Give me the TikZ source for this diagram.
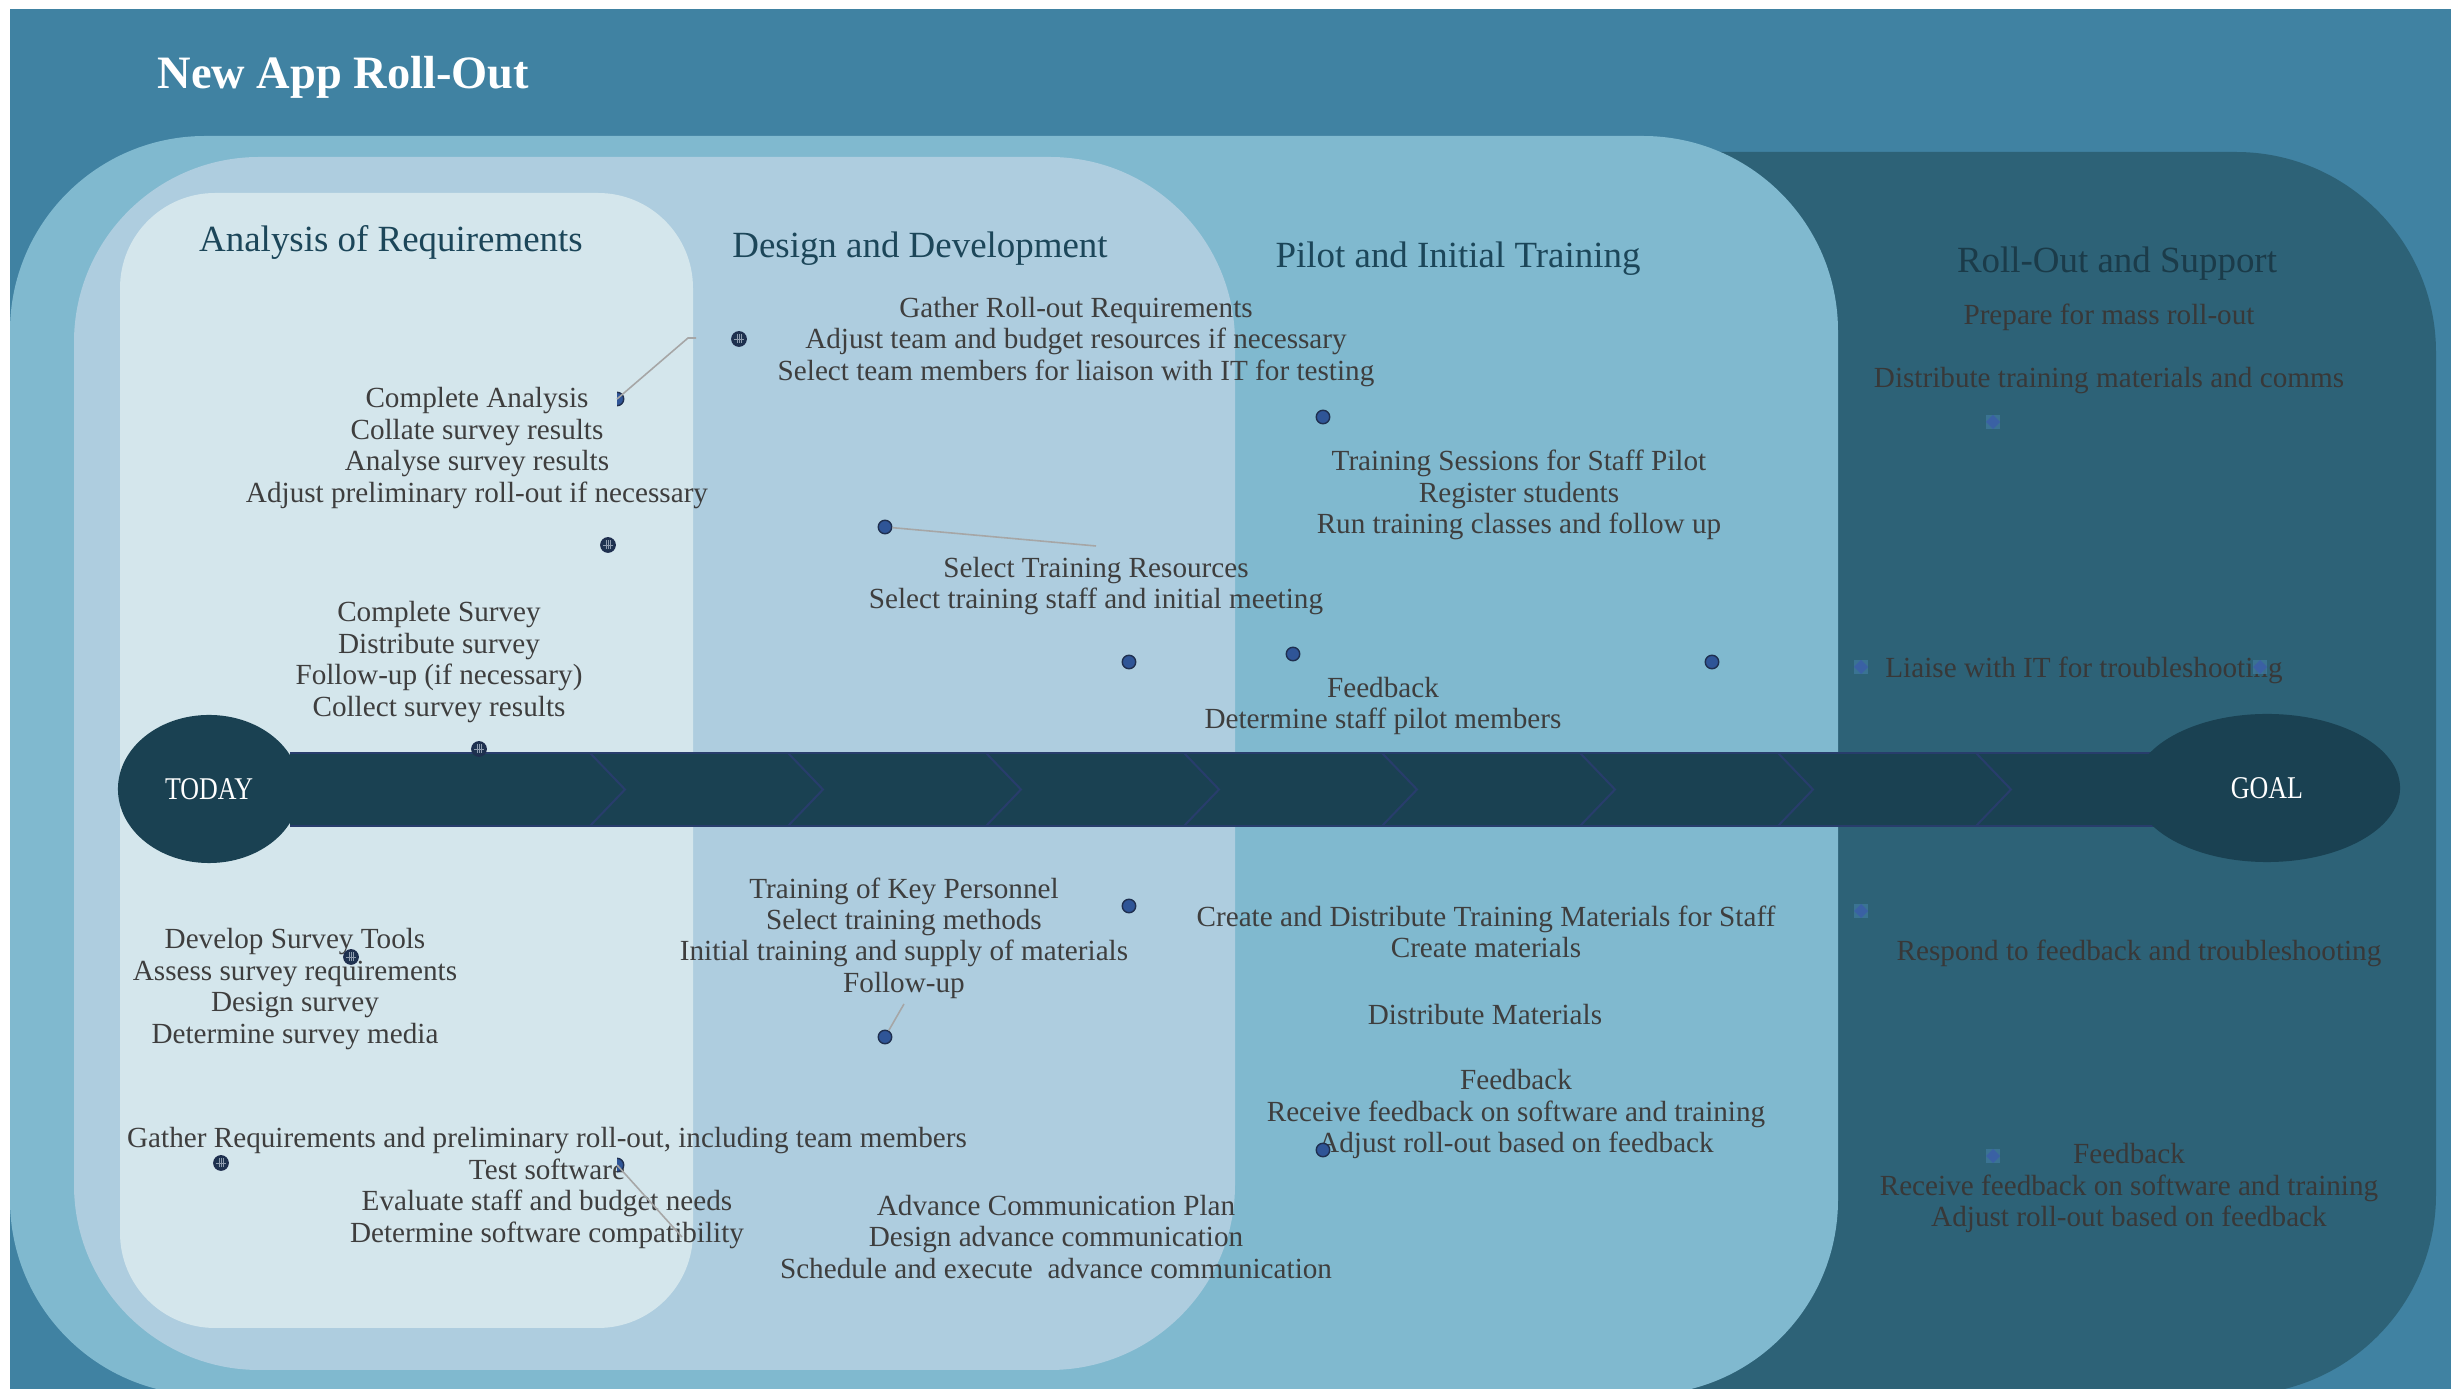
\documentclass[tikz,border=0pt]{standalone}
\usepackage{fontspec}
\setmainfont{Liberation Serif}
\newfontfamily\narrowserif[FakeStretch=0.82]{Liberation Serif}
\usetikzlibrary{shapes.geometric}

\definecolor{bgblue}{HTML}{4082A2}
\definecolor{ringblue}{HTML}{80B9CF}
\definecolor{designblue}{HTML}{AECDDF}
\definecolor{paleblue}{HTML}{D4E6EC}
\definecolor{rolloutblue}{HTML}{2D6277}
\definecolor{barblue}{HTML}{1A4152}
\definecolor{chevronline}{HTML}{283D6C}
\definecolor{bodytext}{HTML}{3E3E3E}
\definecolor{dimtext}{HTML}{383838}
\definecolor{headtext}{HTML}{1C4659}
\definecolor{headdim}{HTML}{1B3B49}
\definecolor{dotfill}{HTML}{2F5597}
\definecolor{dotedge}{HTML}{1F2F4F}
\definecolor{griddark}{HTML}{1E3350}
\definecolor{gridline}{HTML}{8E9BAE}
\definecolor{markerbox}{HTML}{3D7799}
\definecolor{markerdiamond}{HTML}{3B5EA8}
\definecolor{leader}{HTML}{A6A6A6}

\tikzset{
  body/.style={text=bodytext, font=\fontsize{8.3}{8.93}\selectfont, align=center, inner sep=0pt},
  dimbody/.style={body, text=dimtext},
  head/.style={text=headtext, font=\fontsize{10.5}{12}\selectfont, inner sep=0pt, anchor=base},
  milestone/.style={ellipse, fill=barblue, inner sep=0pt, minimum height=1.48cm,
    text=white, font=\narrowserif\fontsize{9}{10}\selectfont},
  chevron/.style={chevronline, line width=0.57pt},
  leaderline/.style={leader, line width=0.45pt},
  bluedot/.style={circle, fill=dotfill, draw=dotedge, line width=0.4pt,
    minimum size=0.135cm, inner sep=0pt},
  griddot/.style={circle, fill=griddark, draw=dotedge, line width=0.5pt,
    minimum size=0.14cm, inner sep=0pt,
    path picture={
      \foreach \u in {-0.02cm,0cm,0.02cm}
        \draw[gridline, line width=0.18pt]
          ([xshift=\u, yshift=-0.025cm]path picture bounding box.north) --
          ([xshift=\u, yshift=0.025cm]path picture bounding box.south);
      \draw[gridline, line width=0.22pt]
        ([xshift=0.02cm]path picture bounding box.west) -- ([xshift=-0.02cm]path picture bounding box.east);
    }},
  marker/.style={rectangle, fill=markerbox, fill opacity=0.85, minimum size=0.14cm, inner sep=0pt,
    path picture={
      \fill[markerdiamond]
        (path picture bounding box.north) -- (path picture bounding box.east) --
        (path picture bounding box.south) -- (path picture bounding box.west) -- cycle;
    }},
}

\begin{document}
\begin{tikzpicture}[x=0.01cm, y=-0.01cm]
\useasboundingbox (0,0) rectangle (2459,1389);
\fill[white] (0,0) rectangle (2459,1389);

% phase panels
\begin{scope}
  \clip (10,9) rectangle (2451,1389);
  \fill[bgblue] (10,9) rectangle (2451,1389);
  \fill[rolloutblue, rounded corners=2cm] (1500,152) rectangle (2436,1395);
  \fill[ringblue, rounded corners=1.95cm] (10,136) rectangle (1838,1395);
  \fill[designblue, rounded corners=1.85cm] (74,157) rectangle (1235,1370);
  \fill[paleblue, rounded corners=0.95cm] (120,193) rectangle (693,1328);
\end{scope}

% title
\node[anchor=base west, text=white, inner sep=0pt,
      font=\bfseries\fontsize{13.2}{16}\selectfont] (title) at (157,89) {New App Roll-Out};

% phase headings
\node[head] (hA) at (391,252) {Analysis of Requirements};
\node[head] (hD) at (920,258) {Design and Development};
\node[head] (hP) at (1458,268) {Pilot and Initial Training};
\node[head, text=headdim] (hR) at (2117,273) {Roll-Out and Support};

% timeline bar with chevrons
\fill[barblue] (290,753) rectangle (2160,826);
\draw[chevron] (290,753) -- (2160,753) (290,826) -- (2160,826);
\foreach \k in {0,...,7}
  \draw[chevron] ({590+198*\k},753) -- ++(35,36.5) -- ++(-35,36.5);
\node[milestone, minimum width=1.82cm] (today) at (209,789) {TODAY};
\node[milestone, minimum width=2.66cm] (goal) at (2267,788) {GOAL};

% analysis of requirements
\node[body] (a1) at (477,448) {Complete Analysis\\Collate survey results\\Analyse survey results\\Adjust preliminary roll-out if necessary};
\node[body] (a2) at (439,662) {Complete Survey\\Distribute survey\\Follow-up (if necessary)\\Collect survey results};
\node[body] (a3) at (295,989) {Develop Survey Tools\\Assess survey requirements\\Design survey\\Determine survey media};
\node[body] (a4) at (547,1188) {Gather Requirements and preliminary roll-out, including team members\\Test software\\Evaluate staff and budget needs\\Determine software compatibility};

% design and development
\node[body] (d1) at (1076,342) {Gather Roll-out Requirements\\Adjust team and budget resources if necessary\\Select team members for liaison with IT for testing};
\node[body] (d2) at (1096,586) {Select Training Resources\\Select training staff and initial meeting};
\node[body] (d3) at (904,938) {Training of Key Personnel\\Select training methods\\Initial training and supply of materials\\Follow-up};
\node[body] (d4) at (1056,1237) {Advance Communication Plan\\Design advance communication\\Schedule and execute\ \ advance communication};

% pilot and initial training
\node[body] (p1) at (1519,495) {Training Sessions for Staff Pilot\\Register students\\Run training classes and follow up};
\node[body] (p2) at (1383,706) {Feedback\\Determine staff pilot members};
\node[body] (p3) at (1486,932) {Create and Distribute Training Materials for Staff\\Create materials};
\node[body] (p4) at (1485,1015) {Distribute Materials};
\node[body] (p5) at (1516,1114) {Feedback\\Receive feedback on software and training\\Adjust roll-out based on feedback};

% roll-out and support
\node[dimbody] (r1) at (2109,317) {Prepare for mass roll-out};
\node[dimbody] (r2) at (2109,381) {Distribute training materials and comms};
\node[dimbody] (r3) at (2084,670) {Liaise with IT for troubleshooting};
\node[dimbody] (r4) at (2139,953) {Respond to feedback and troubleshooting};
\node[dimbody] (r5) at (2129,1188) {Feedback\\Receive feedback on software and training\\Adjust roll-out based on feedback};

% milestone markers
\node[griddot] (gA) at (739,339) {};
\node[griddot] (gB) at (608,545) {};
\node[griddot] (gC) at (479,749) {};
\node[griddot] (gD) at (351,957) {};
\node[griddot] (gE) at (221,1163) {};

\node[bluedot] (dsel) at (885,527) {};
\node[bluedot] (dk1) at (1129,662) {};
\node[bluedot] (dp1) at (1323,417) {};
\node[bluedot] (dp2) at (1293,654) {};
\node[bluedot] (dp3) at (1712,662) {};
\node[bluedot] (dk2) at (1129,906) {};
\node[bluedot] (dfu) at (885,1037) {};
\node[bluedot] (dp4) at (1323,1150) {};

\begin{scope}
  \clip (617,380) rectangle (640,420);
  \node[bluedot] (dca) at (617,399) {};
\end{scope}
\begin{scope}
  \clip (617,1145) rectangle (640,1185);
  \node[bluedot] (dts) at (617,1165) {};
\end{scope}

\node[marker] (m1) at (1993,422) {};
\node[marker] (m2) at (1861,667) {};
\node[marker] (m3) at (2260,667) {};
\node[marker] (m4) at (1861,911) {};
\node[marker] (m5) at (1993,1156) {};

% leader lines
\coordinate (caBend) at (688,338);
\coordinate (caEnd) at (696,338);
\draw[leaderline] (dca.center) -- (caBend) -- (caEnd);
\coordinate (selEnd) at (1096,546);
\draw[leaderline] (dsel) -- (selEnd);
\coordinate (fuEnd) at (904,1004);
\draw[leaderline] (dfu) -- (fuEnd);
\coordinate (tsEnd) at (682,1237);
\draw[leaderline] (dts.center) -- (tsEnd);
\end{tikzpicture}
\end{document}
